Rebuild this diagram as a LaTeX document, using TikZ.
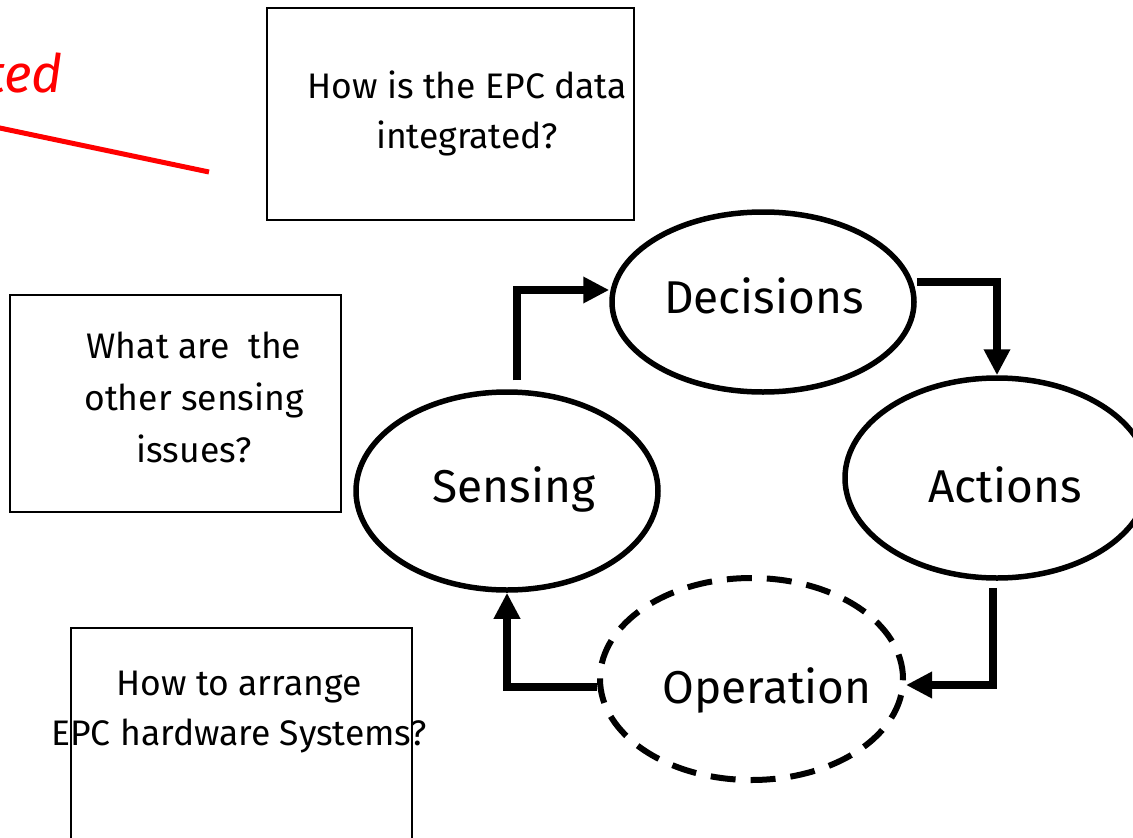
\documentclass[tikz,border=0pt]{standalone}
\usepackage{fontspec}
\setmainfont{Fira Sans}
\usetikzlibrary{shapes.geometric,arrows.meta}

\begin{document}
\begin{tikzpicture}[x=1pt,y=-1pt,
  qbox/.style={draw,line width=2pt,inner sep=0pt},
  qtext/.style={align=center,inner sep=0pt,anchor=base,font=\fontsize{35.5}{50}\selectfont},
  phase/.style={ellipse,draw,line width=5.5pt,inner sep=0pt,minimum width=302pt,minimum height=200pt},
  phasetext/.style={inner sep=0pt,anchor=base,font=\fontsize{46}{50}\selectfont},
  flow/.style={line width=7.5pt,-{Triangle[length=26pt,width=25pt]}},
]
\clip (0,0) rectangle (1133,838);
\fill[white] (0,0) rectangle (1133,838);

% red annotation at the top left
\node[anchor=base east,inner sep=0pt,text=red,font=\fontsize{53}{60}\selectfont\itshape] (redtxt) at (63,92) {ted};
\coordinate (redA) at (-5,127);
\coordinate (redB) at (209,172);
\draw[red,line width=5pt] (redA) -- (redB);

% question boxes (text anchored at the baseline of the last line)
\node[qbox,minimum width=367pt,minimum height=212pt] (q1) at (450.5,114) {};
\node[qtext] (q1t) at (467,148) {How is the EPC data\\integrated?};

\node[qbox,minimum width=331pt,minimum height=217pt] (q2) at (175.5,403.5) {};
\node[qtext,font=\fontsize{35.5}{52}\selectfont] (q2t) at (194,462) {What are\ \ the\\other sensing\\issues?};

\node[qbox,minimum width=341pt,minimum height=240pt] (q3) at (241.5,748) {};
\node[qtext] (q3t) at (239,745) {How to arrange\\EPC hardware Systems?};

% the cycle
\node[phase,minimum height=180pt] (dec) at (763,302) {};
\node[phasetext] (dect) at (764,313) {Decisions};
\node[phase,minimum height=198pt] (sen) at (507,491) {};
\node[phasetext] (sent) at (514,502) {Sensing};
\node[phase,minimum width=304pt] (act) at (997,478) {};
\node[phasetext] (actt) at (1005,502) {Actions};
\node[phase,line width=6pt,dash pattern=on 25pt off 15pt,minimum width=303pt,minimum height=202pt] (op) at (751.5,679) {};
\node[phasetext] (opt) at (767,703) {Operation};

% connectors
\draw[flow] (sen.north -| 517,0) ++(0,-9) |- (dec.west |- 0,290);
\draw[flow] (dec.east |- 0,282) -| (act.north);
\draw[flow] (act.south) ++(-4,7) |- (op.east |- 0,685);
\draw[flow] (op.west |- 0,687) -| (sen.south);
\end{tikzpicture}
\end{document}
